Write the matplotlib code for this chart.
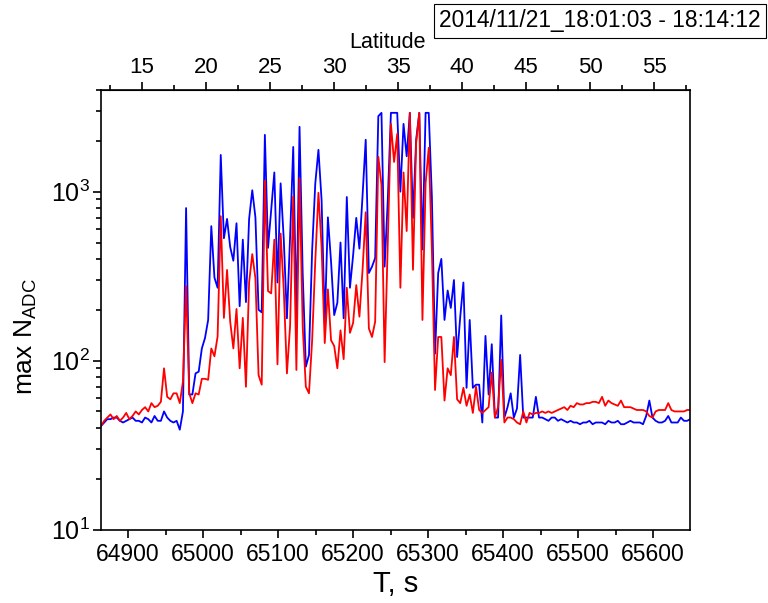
import numpy as np
import matplotlib
matplotlib.use('Agg')
from matplotlib import pyplot as plt
from matplotlib.ticker import MultipleLocator, LogLocator, NullFormatter

plt.rcParams['font.family'] = ['Liberation Sans', 'DejaVu Sans']
plt.rcParams['mathtext.fontset'] = 'custom'
plt.rcParams['mathtext.rm'] = 'Liberation Sans'
plt.rcParams['mathtext.it'] = 'Liberation Sans:italic'

# sampling of the detector record (s)
t_start = 64864
t_step = 4.2

# max N_ADC, blue channel
blue = [41, 43, 45, 45, 46, 46, 44, 43, 44, 45, 46, 44, 44, 43, 46, 45, 43, 47, 44, 44,
        50, 46, 44, 43, 44, 39, 50,
        800, 63, 63, 84, 86, 118, 136, 174, 625, 310, 270, 1650, 530, 690, 470, 390, 650, 210,
        520, 222, 690, 1020, 705, 200, 193, 2170,
        465, 780, 1300, 290, 1120, 520, 178, 540, 1840, 178, 2420, 330, 92, 108, 450, 1120,
        1770, 890, 165, 705, 385, 186, 220, 500, 178, 930, 270,
        420, 700, 460, 950, 2030, 330, 360, 405, 2800, 2930, 360, 890, 2930, 2930, 2930, 1000,
        2520, 1620, 2930, 700, 2030, 2930, 455, 2930, 2930, 930, 110, 330, 400, 174,
        260, 205, 300, 105, 182, 290, 69, 174, 69, 72, 72, 43, 140, 63, 125, 46, 46, 185, 46,
        53, 64, 46, 52, 108, 46, 46, 46, 46, 61, 46, 46, 45, 44, 46, 46, 44, 45, 44, 43, 44,
        43, 43, 42, 43, 43, 44, 42, 43, 43, 43, 42, 44, 43, 43, 44, 42, 42, 43, 44, 43, 43,
        43, 42, 47, 58, 46, 44, 43, 43, 44, 47, 43, 43, 43, 46, 44, 44, 45]

# max N_ADC, red channel
red = [41, 44, 46, 48, 45, 47, 44, 46, 49, 45, 47, 50, 48, 51, 53, 50, 56, 53, 54, 57,
       90, 61, 59, 64, 64, 56, 75,
       276, 64, 56, 64, 63, 78, 78, 77, 118, 106, 139, 716, 179, 344, 170, 118, 202, 90,
       179, 70, 290, 427, 307, 82, 72, 1160,
       258, 250, 520, 95, 565, 262, 84, 160, 935, 88, 1200, 160, 70, 64, 132, 390,
       985, 470, 127, 264, 132, 122, 90, 151, 102, 270, 146,
       167, 280, 182, 345, 755, 155, 138, 170, 1610, 1100, 98, 490, 2520, 1500, 2200, 270,
       1300, 585, 2930, 345, 1940, 2930, 174, 1120, 1820, 450, 67, 138, 138, 58,
       90, 82, 138, 59, 56, 69, 54, 63, 49, 70, 51, 49, 51, 53, 85, 46, 53, 101, 43,
       46, 46, 45, 43, 42, 50, 43, 49, 48, 49, 49, 50, 49, 50, 49, 50, 51, 52, 53, 51,
       54, 53, 56, 55, 55, 56, 56, 57, 57, 56, 61, 54, 58, 56, 55, 54, 58, 53, 53, 53, 52,
       51, 51, 51, 50, 47, 46, 50, 51, 51, 51, 56, 51, 50, 50, 50, 50, 51, 51]

# latitude scale on top: 15 deg at T = 64918.7 s, 17.07 s per degree
lat_ref = 15
t_lat_ref = 64918.7
s_per_deg = 17.07

t = t_start + t_step * np.arange(len(blue))


def t2lat(x):
    return lat_ref + (np.asarray(x) - t_lat_ref) / s_per_deg


def lat2t(x):
    return t_lat_ref + (np.asarray(x) - lat_ref) * s_per_deg


fig = plt.figure(figsize=(7.68, 6.03), dpi=100)
ax = fig.add_axes([101/768, 1-529.5/603, 589/768, 439.5/603])

ax.plot(t, blue, color='#0000ff', lw=1.3)
ax.plot(t, red, color='#ff0000', lw=1.3)

ax.set_yscale('log')
ax.set_xlim(64864, 65649)
ax.set_ylim(10, 4000)

ax.xaxis.set_major_locator(MultipleLocator(100))
ax.xaxis.set_minor_locator(MultipleLocator(50))
ax.yaxis.set_major_locator(LogLocator(base=10, numticks=10))
ax.yaxis.set_minor_locator(LogLocator(base=10, subs=np.arange(2, 10), numticks=10))
ax.yaxis.set_minor_formatter(NullFormatter())

ax.tick_params(which='both', direction='out', width=1.2, labelsize=16.5, top=False, right=False)
ax.tick_params(which='major', length=6)
ax.tick_params(which='minor', length=3.5)
ax.tick_params(axis='y', which='major', labelsize=18, pad=2)
for s in ax.spines.values():
    s.set_linewidth(1.2)

ax.set_xlabel('T, s', fontsize=21, labelpad=3)
ax.set_ylabel(r'max N$_{\mathrm{ADC}}$', fontsize=19)
ax.yaxis.set_label_coords(-0.105, 0.44)

sec = ax.secondary_xaxis('top', functions=(t2lat, lat2t))
sec.xaxis.set_major_locator(MultipleLocator(5))
sec.xaxis.set_minor_locator(MultipleLocator(2.5))
sec.tick_params(which='both', direction='out', width=1.2, labelsize=16, pad=2.5)
sec.tick_params(which='major', length=6)
sec.tick_params(which='minor', length=3.5)
sec.set_xlabel('Latitude', fontsize=15.5)
sec.xaxis.set_label_coords(0.487, 1.095, transform=ax.transAxes)

fig.text(600/768, 1-21/603, '2014/11/21_18:01:03 - 18:14:12', fontsize=16.4,
         ha='center', va='center',
         bbox=dict(boxstyle='square,pad=0.22', fc='white', ec='black', lw=0.8))

fig.savefig('out.png', dpi=100)
